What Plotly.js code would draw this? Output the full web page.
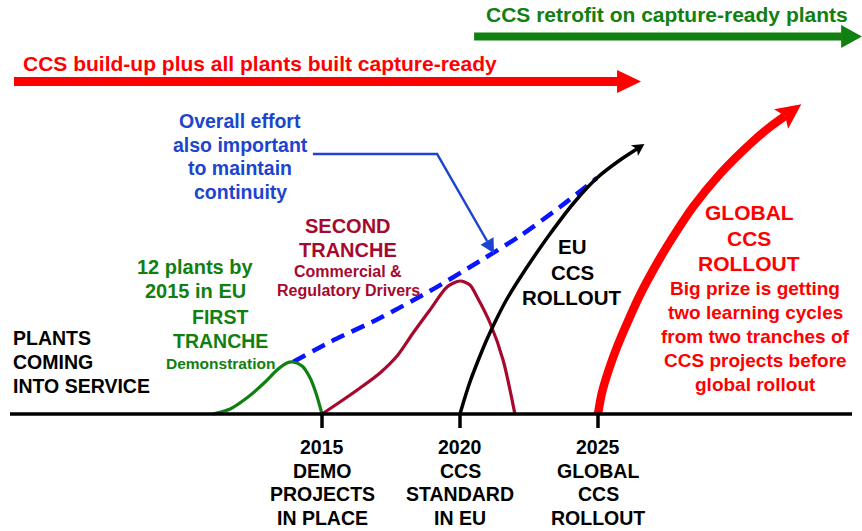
<!DOCTYPE html>
<html><head><meta charset="utf-8">
<script src="https://cdn.plot.ly/plotly-3.0.1.min.js"></script>
<style>html,body{margin:0;padding:0;background:#fff;}#chart{width:862px;height:531px;}</style>
</head><body><div id="chart"></div>
<script>
// ---- data (x: year, y: relative number of plants coming into service) ----
const firstTrancheYears  = [2011.05, 2011.67, 2012.32, 2012.94, 2013.37, 2013.73, 2013.95, 2014.28, 2014.57, 2014.78, 2015.0];
const firstTrancheLevels = [0, 5, 17, 32, 44, 51, 52, 48, 36, 21, 0];
const secondTrancheYears  = [2015.0, 2015.65, 2016.38, 2017.10, 2017.75, 2018.30, 2018.91, 2019.53, 2020.0, 2020.36, 2020.62, 2021.09, 2021.56, 2021.99];
const secondTrancheLevels = [0, 12, 26, 41, 59, 81, 104, 127, 133, 129, 117, 91, 54, 0];
const euRolloutYears  = [2020.0, 2020.15, 2020.36, 2020.65, 2020.98, 2021.34, 2021.70, 2022.17, 2022.65, 2023.26, 2024.09, 2024.96, 2025.80, 2026.41];
const euRolloutLevels = [0, 14, 32, 53, 75, 96, 115, 136, 156, 180, 210, 236, 254, 265];
const globalRolloutYears  = [2025.0, 2025.14, 2025.40, 2025.69, 2026.09, 2026.52, 2027.25, 2027.83, 2028.44, 2029.42, 2030.51, 2031.23, 2031.78];
const globalRolloutLevels = [0, 21, 45, 67, 93, 119, 156, 182, 207, 240, 270, 287, 298];
const overallEffortYears  = [2013.95, 2015.29, 2017.10, 2018.91, 2020.72, 2022.17, 2023.62, 2024.96];
const overallEffortLevels = [52, 72, 96, 123, 153, 178, 207, 236];
const pointerYears  = [2014.67, 2019.17, 2020.98];
const pointerLevels = [260, 260, 173];
const buildUpSpan   = [2003.84, 2026.56];   // years
const retrofitSpan  = [2020.51, 2034.57];   // years
const tickYears = [2015, 2020, 2025];
const tickLabels = [
  ["2015", "DEMO", "PROJECTS", "IN PLACE"],
  ["2020", "CCS", "STANDARD", "IN EU"],
  ["2025", "GLOBAL", "CCS", "ROLLOUT"]
];
const retrofitLabel = ["CCS retrofit on capture-ready plants"];
const buildUpLabel = ["CCS build-up plus all plants built capture-ready"];
const effortLabel = ["Overall effort", "also important", "to maintain", "continuity"];
const secondLabel = ["SECOND", "TRANCHE"];
const secondSub = ["Commercial &", "Regulatory Drivers"];
const plantsByLabel = ["12 plants by", "2015 in EU"];
const firstLabel = ["FIRST", "TRANCHE"];
const firstSub = ["Demonstration"];
const yAxisLabel = ["PLANTS", "COMING", "INTO SERVICE"];
const euLabel = ["EU", "CCS", "ROLLOUT"];
const globalLabel = ["GLOBAL", "CCS", "ROLLOUT"];
const prizeLabel = ["Big prize is getting", "two learning cycles", "from two tranches of", "CCS projects before", "global rollout"];

// ---- scales ----
const W = 862, H = 531, BASE = 414, PXY = 27.6;
const X0 = 2015 - 322 / PXY, X1 = X0 + W / PXY;
const pxX = yr => (yr - X0) * PXY, pxY = lv => BASE - lv;
const dX = px => X0 + px / PXY, dY = py => BASE - py;

const GREEN = "#108010", RED = "#ff0000", DRED = "#a50a2e", BLUE = "#1c45cf", DBLUE = "#0a14ff";
const FONT = "Liberation Sans, Arial, sans-serif";

function headPath(xs, ys, Ln, L, Wd, notch) {
  const n = xs.length;
  const P = [pxX(xs[n-1]), pxY(ys[n-1])], Q = [pxX(xs[n-2]), pxY(ys[n-2])];
  let d = [P[0]-Q[0], P[1]-Q[1]]; const len = Math.hypot(d[0], d[1]); d = [d[0]/len, d[1]/len];
  const pp = [-d[1], d[0]];
  const tip = [P[0]+d[0]*Ln, P[1]+d[1]*Ln];
  const back = [P[0]+d[0]*(Ln-L), P[1]+d[1]*(Ln-L)];
  const c1 = [back[0]+pp[0]*Wd, back[1]+pp[1]*Wd], c2 = [back[0]-pp[0]*Wd, back[1]-pp[1]*Wd];
  const pt = p => dX(p[0]) + "," + dY(p[1]);
  return "M" + pt(tip) + "L" + pt(c1) + "L" + (notch ? pt(P) : pt(back)) + "L" + pt(c2) + "Z";
}
function headShape(xs, ys, Ln, L, Wd, notch, color) {
  return {type: "path", xref: "x", yref: "y", path: headPath(xs, ys, Ln, L, Wd, notch),
          fillcolor: color, line: {width: 0}, layer: "above"};
}
function straightArrow(span, py, thick, headLen, headHalf, color) {
  const y = dY(py), xb = span[1] - headLen / PXY;
  return [
    {type: "line", xref: "x", yref: "y", x0: span[0], x1: xb + 0.5 / PXY, y0: y, y1: y, line: {color: color, width: thick}},
    {type: "path", xref: "x", yref: "y", fillcolor: color, line: {width: 0},
     path: "M" + span[1] + "," + y + "L" + xb + "," + (y + headHalf) + "L" + xb + "," + (y - headHalf) + "Z"}
  ];
}
const annotations = [];
function block(lines, cx, y0, dy, size, color, anchor) {
  lines.forEach((t, i) => annotations.push({
    xref: "paper", yref: "paper", x: cx / W, y: 1 - (y0 + i * dy) / H,
    xanchor: anchor || "center", yanchor: "middle", showarrow: false,
    text: "<b>" + t + "</b>", font: {family: FONT, size: size, color: color}
  }));
}
block(retrofitLabel, 667, 15, 0, 21, GREEN);
block(buildUpLabel, 260, 63, 0, 21, RED);
block(effortLabel, 240, 121, 23.7, 19.5, BLUE);
block(secondLabel, 347.5, 226, 23.5, 20, DRED);
block(secondSub, 348, 271, 20, 16, DRED);
block(plantsByLabel, 195, 267, 23.5, 20, GREEN);
block(firstLabel, 220, 317, 24, 19.5, GREEN);
block(firstSub, 220.5, 363, 0, 15.5, GREEN);
block(yAxisLabel, 11, 338, 24, 19.5, "#000", "left");
block(euLabel, 572, 247, 25, 20.5, "#000");
block(globalLabel, 749, 213, 25, 21, RED);
block(prizeLabel, 755, 288, 24, 19, RED);
tickYears.forEach((yr, k) => block(tickLabels[k], pxX(yr), 447, 23.5, 19.5, "#000"));

const shapes = [
  {type: "line", xref: "x", yref: "y", x0: dX(10), x1: dX(852), y0: 0, y1: 0, line: {color: "#000", width: 3.5}},
  ...tickYears.map(yr => ({type: "line", xref: "x", yref: "y", x0: yr, x1: yr, y0: 0, y1: -14, line: {color: "#000", width: 3.5}})),
  ...straightArrow(buildUpSpan, 81.5, 9, 24, 11.5, RED),
  ...straightArrow(retrofitSpan, 36.5, 8, 21, 11.5, GREEN),
  headShape(euRolloutYears, euRolloutLevels, 9, 12, 6.5, true, "#000"),
  headShape(globalRolloutYears, globalRolloutLevels, 20, 25, 12, true, RED),
  headShape(pointerYears, pointerLevels, 14, 14, 7.5, false, BLUE)
];

const line = (x, y, color, width, extra) => Object.assign({type: "scatter", mode: "lines", x: x, y: y,
  hoverinfo: "skip", line: Object.assign({color: color, width: width, shape: "spline", smoothing: 0.8}, extra || {})});
const traces = [
  line(overallEffortYears, overallEffortLevels, DBLUE, 4.5, {dash: "14px,8px"}),
  line(firstTrancheYears, firstTrancheLevels, GREEN, 3.2),
  line(secondTrancheYears, secondTrancheLevels, DRED, 3.2),
  line(euRolloutYears, euRolloutLevels, "#000", 3.5),
  line(globalRolloutYears, globalRolloutLevels, RED, 8.5),
  Object.assign(line(pointerYears, pointerLevels, BLUE, 2.5), {line: {color: BLUE, width: 2.5, shape: "linear"}})
];

Plotly.newPlot("chart", traces, {
  width: W, height: H, margin: {l: 0, r: 0, t: 0, b: 0},
  paper_bgcolor: "#fff", plot_bgcolor: "#fff", showlegend: false,
  xaxis: {range: [X0, X1], visible: false, fixedrange: true},
  yaxis: {range: [BASE - H, BASE], visible: false, fixedrange: true},
  shapes: shapes, annotations: annotations
}, {displayModeBar: false, staticPlot: true});
</script></body></html>
